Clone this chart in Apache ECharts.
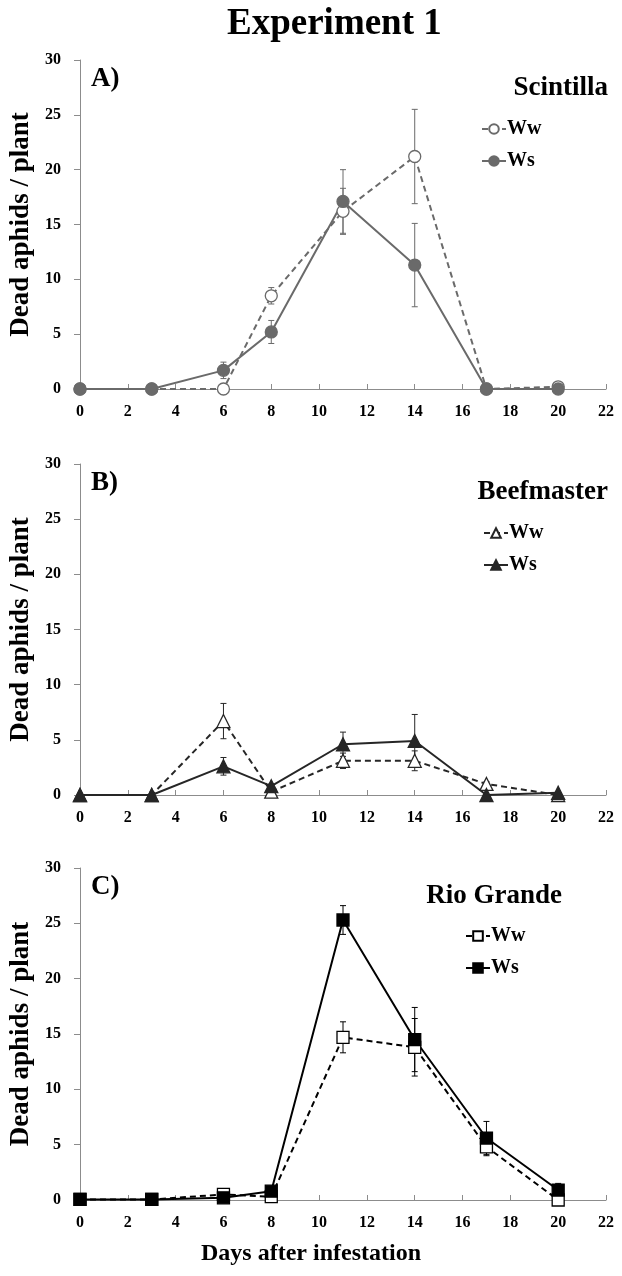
<!DOCTYPE html>
<html>
<head>
<meta charset="utf-8">
<script src="https://cdn.jsdelivr.net/npm/echarts@6/dist/echarts.min.js"></script>
<style>
  html, body { margin: 0; padding: 0; background: #fff; }
  #chart { width: 622px; height: 1276px; }
</style>
</head>
<body>
<div id="chart"></div>
<script>
// days after infestation
const days = [0, 3, 6, 8, 11, 14, 17, 20];

// A) Scintilla
const scintWw    = [0, 0, 0, 8.5, 16.2, 21.2, 0, 0.2];
const scintWwErr = [0, 0, 0.5, 0.75, 2.1, 4.3, 0, 0.1];
const scintWs    = [0, 0, 1.7, 5.2, 17.1, 11.3, 0, 0];
const scintWsErr = [0, 0, 0.75, 1.05, 2.9, 3.8, 0, 0];

// B) Beefmaster
const beefWw    = [0, 0, 6.7, 0.3, 3.1, 3.1, 1.0, 0];
const beefWwErr = [0, 0, 1.6, 0.3, 0.7, 0.9, 0.2, 0];
const beefWs    = [0, 0, 2.6, 0.8, 4.6, 4.9, 0, 0.2];
const beefWsErr = [0, 0, 0.8, 0.2, 1.1, 2.4, 0, 0];

// C) Rio Grande
const rioWw    = [0.05, 0.05, 0.5, 0.3, 14.7, 13.8, 4.8, 0];
const rioWwErr = [0, 0, 0.2, 0.3, 1.4, 2.6, 0.8, 0.3];
const rioWs    = [0.05, 0.05, 0.2, 0.8, 25.3, 14.5, 5.6, 0.9];
const rioWsErr = [0, 0, 0.1, 0.2, 1.3, 2.9, 1.5, 0.6];

const yTicks = [0, 5, 10, 15, 20, 25, 30];

const font = 'Liberation Serif, Times New Roman, serif';
const chart = echarts.init(document.getElementById('chart'));

const grids = [
  { left: 80, right: 16, top: 60, height: 329, outerBoundsMode: 'none', containLabel: false },
  { left: 80, right: 16, top: 464, height: 331, outerBoundsMode: 'none', containLabel: false },
  { left: 80, right: 16, top: 868, height: 332, outerBoundsMode: 'none', containLabel: false }
];

function pairs(vals) { return days.map((d, i) => [d, vals[i]]); }
function errData(vals, errs) {
  return days.map((d, i) => [d, vals[i] - errs[i], vals[i] + errs[i]]).filter((r, i) => errs[i] > 0);
}

function errSeries(idx, vals, errs, color) {
  return {
    type: 'custom',
    xAxisIndex: idx, yAxisIndex: idx,
    data: errData(vals, errs),
    z: 1,
    silent: true,
    renderItem: function (params, api) {
      const x = api.value(0);
      const lo = api.coord([x, api.value(1)]);
      const hi = api.coord([x, api.value(2)]);
      const w = 3;
      const st = { stroke: color, lineWidth: 1 };
      return {
        type: 'group',
        children: [
          { type: 'line', shape: { x1: lo[0], y1: lo[1], x2: hi[0], y2: hi[1] }, style: st },
          { type: 'line', shape: { x1: lo[0] - w, y1: lo[1], x2: lo[0] + w, y2: lo[1] }, style: st },
          { type: 'line', shape: { x1: hi[0] - w, y1: hi[1], x2: hi[0] + w, y2: hi[1] }, style: st }
        ]
      };
    }
  };
}

function lineSeries(idx, name, vals, color, symbol, open, dashed) {
  return {
    name: name,
    type: 'line',
    xAxisIndex: idx, yAxisIndex: idx,
    data: pairs(vals),
    symbol: symbol,
    symbolSize: symbol === 'triangle' ? 13 : 12,
    z: 3,
    lineStyle: { color: color, width: 2, type: dashed ? [6, 4] : 'solid' },
    itemStyle: { color: open ? '#fff' : color, borderColor: color, borderWidth: 1.3 }
  };
}

const panels = [
  { label: 'A)', name: 'Scintilla', color: '#6a6a6a', sym: 'circle', ww: scintWw, wwE: scintWwErr, ws: scintWs, wsE: scintWsErr },
  { label: 'B)', name: 'Beefmaster', color: '#262626', sym: 'triangle', ww: beefWw, wwE: beefWwErr, ws: beefWs, wsE: beefWsErr },
  { label: 'C)', name: 'Rio Grande', color: '#000000', sym: 'rect', ww: rioWw, wwE: rioWwErr, ws: rioWs, wsE: rioWsErr }
];

const nameTops = [70, 474, 878];
const legendPos = [{ left: 476, top: 114 }, { left: 478, top: 518 }, { left: 460, top: 921 }];
const cultRight = [9, 9, 55];

const series = [];
const titles = [{
  text: 'Experiment 1', left: 222, top: 1,
  textStyle: { fontFamily: font, fontSize: 37, fontWeight: 'bold', color: '#000' }
}, {
  text: 'Days after infestation', left: 'center', top: 1237,
  textStyle: { fontFamily: font, fontSize: 24, fontWeight: 'bold', color: '#000' }
}];
const legends = [];

panels.forEach((p, i) => {
  series.push(errSeries(i, p.ww, p.wwE, p.color));
  series.push(errSeries(i, p.ws, p.wsE, p.color));
  series.push(lineSeries(i, i + '|Ww', p.ww, p.color, p.sym, true, true));
  series.push(lineSeries(i, i + '|Ws', p.ws, p.color, p.sym, false, false));
  titles.push({
    text: p.label, left: 86, top: grids[i].top + 1,
    textStyle: { fontFamily: font, fontSize: 27, fontWeight: 'bold', color: '#000' }
  });
  titles.push({
    text: p.name, right: cultRight[i], top: nameTops[i],
    textStyle: { fontFamily: font, fontSize: 27, fontWeight: 'bold', color: '#000' }
  });
  legends.push({
    data: [i + '|Ww', i + '|Ws'],
    orient: 'vertical',
    left: legendPos[i].left, top: legendPos[i].top,
    itemWidth: 24, itemHeight: 12, itemGap: 12,
    selectedMode: false,
    formatter: n => n.split('|')[1],
    textStyle: { fontFamily: font, fontSize: 20, fontWeight: 'bold', color: '#000', padding: [0, 0, 0, -4] }
  });
});

const axisLabel = { fontFamily: font, fontSize: 16, fontWeight: 'bold', color: '#000' };
const axisLine = { show: true, onZero: false, lineStyle: { color: '#8c8c8c', width: 1 } };

chart.setOption({
  animation: false,
  backgroundColor: '#fff',
  title: titles,
  legend: legends,
  grid: grids,
  xAxis: grids.map((g, i) => ({
    type: 'value', gridIndex: i, min: 0, max: 22, interval: 2,
    axisLine: axisLine,
    axisTick: { show: true, inside: true, length: 5, lineStyle: { color: '#8c8c8c' } },
    splitLine: { show: false },
    axisLabel: Object.assign({ margin: 15 }, axisLabel)
  })),
  yAxis: grids.map((g, i) => ({
    type: 'value', gridIndex: i, min: yTicks[0], max: yTicks[yTicks.length - 1], interval: 5,
    name: 'Dead aphids / plant',
    nameLocation: 'middle', nameRotate: 90, nameGap: 33,
    nameTextStyle: { fontFamily: font, fontSize: 27, fontWeight: 'bold', color: '#000' },
    axisLine: axisLine,
    axisTick: { show: true, length: 6, lineStyle: { color: '#8c8c8c' } },
    splitLine: { show: false },
    axisLabel: Object.assign({ margin: 19 }, axisLabel)
  })),
  series: series
});
</script>
</body>
</html>
